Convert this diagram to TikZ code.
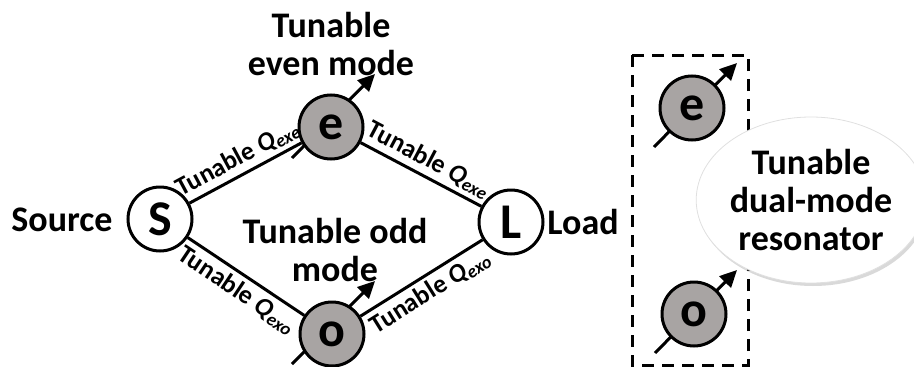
\documentclass[tikz,border=0pt]{standalone}
\usepackage{fontspec}
\setmainfont{Carlito}
\usetikzlibrary{arrows.meta,shadows,shapes.geometric}
\definecolor{modegray}{RGB}{168,164,163}
\tikzset{
  res/.style={circle,draw=black,line width=3pt,minimum size=64pt,inner sep=0pt,font=\bfseries\fontsize{50}{50}\selectfont},
  port/.style={res,fill=white},
  mode/.style={res,fill=modegray},
  conn/.style={line width=3pt},
  tune/.style={line width=3pt,-{Triangle[length=17pt,width=16pt]}},
  elabel/.style={font=\bfseries\fontsize{26}{26}\selectfont,sloped,midway,inner sep=4pt},
  biglabel/.style={font=\bfseries\fontsize{36}{38}\selectfont,align=center,inner sep=0pt},
  dashbox/.style={line width=3pt,dash pattern=on 12pt off 8pt},
}
\newcommand{\qsub}[1]{\textit{Q}\textsubscript{\textit{#1}}}
\begin{document}
\begin{tikzpicture}[x=1pt,y=-1pt]
\useasboundingbox (0,0) rectangle (914,367);
% tuning arrows (behind the resonators)
\coordinate (etail) at (292,158);
\coordinate (ehead) at (375,74);
\coordinate (otail) at (292,364);
\coordinate (ohead) at (375,281);
\draw[tune] (etail) -- (ehead);
\draw[tune] (otail) -- (ohead);
% main network
\node[port] (S) at (160,219) {S};
\node[port] (L) at (511,222) {L};
\node[mode] (e) at (331,127) {e};
\node[mode] (o) at (332,334) {o};
\draw[conn] (S) -- node[elabel,above] {Tunable \qsub{exe}} (e);
\draw[conn] (e) -- node[elabel,above] {Tunable \qsub{exe}} (L);
\draw[conn] (S) -- node[elabel,below] {Tunable \qsub{exo}} (o);
\draw[conn] (o) -- node[elabel,below] {Tunable \qsub{exo}} (L);
\node[biglabel] (src) at (62,220) {Source};
\node[biglabel] (ld) at (583,222) {Load};
\node[biglabel] (even) at (331,44) {Tunable\\even mode};
\node[biglabel] (odd) at (335,250) {Tunable odd\\mode};
% right part
\draw[dashbox] (632,55) rectangle (748,365);
\coordinate (e2tail) at (654,147);
\coordinate (e2head) at (737,63);
\coordinate (o2tail) at (655,353);
\coordinate (o2head) at (737,270);
\draw[tune] (e2tail) -- (e2head);
\draw[tune] (o2tail) -- (o2head);
\node[mode] (e2) at (692,108) {e};
\node[mode] (o2) at (694,314) {o};
\node[ellipse,fill=white,draw=black!12,line width=0.8pt,minimum width=210pt,minimum height=166pt,inner sep=0pt,
  drop shadow={shadow xshift=2pt,shadow yshift=-3pt,opacity=0.3,fill=black!50},
  biglabel] (dm) at (811,200) {Tunable\\dual-mode\\resonator};
\end{tikzpicture}
\end{document}
